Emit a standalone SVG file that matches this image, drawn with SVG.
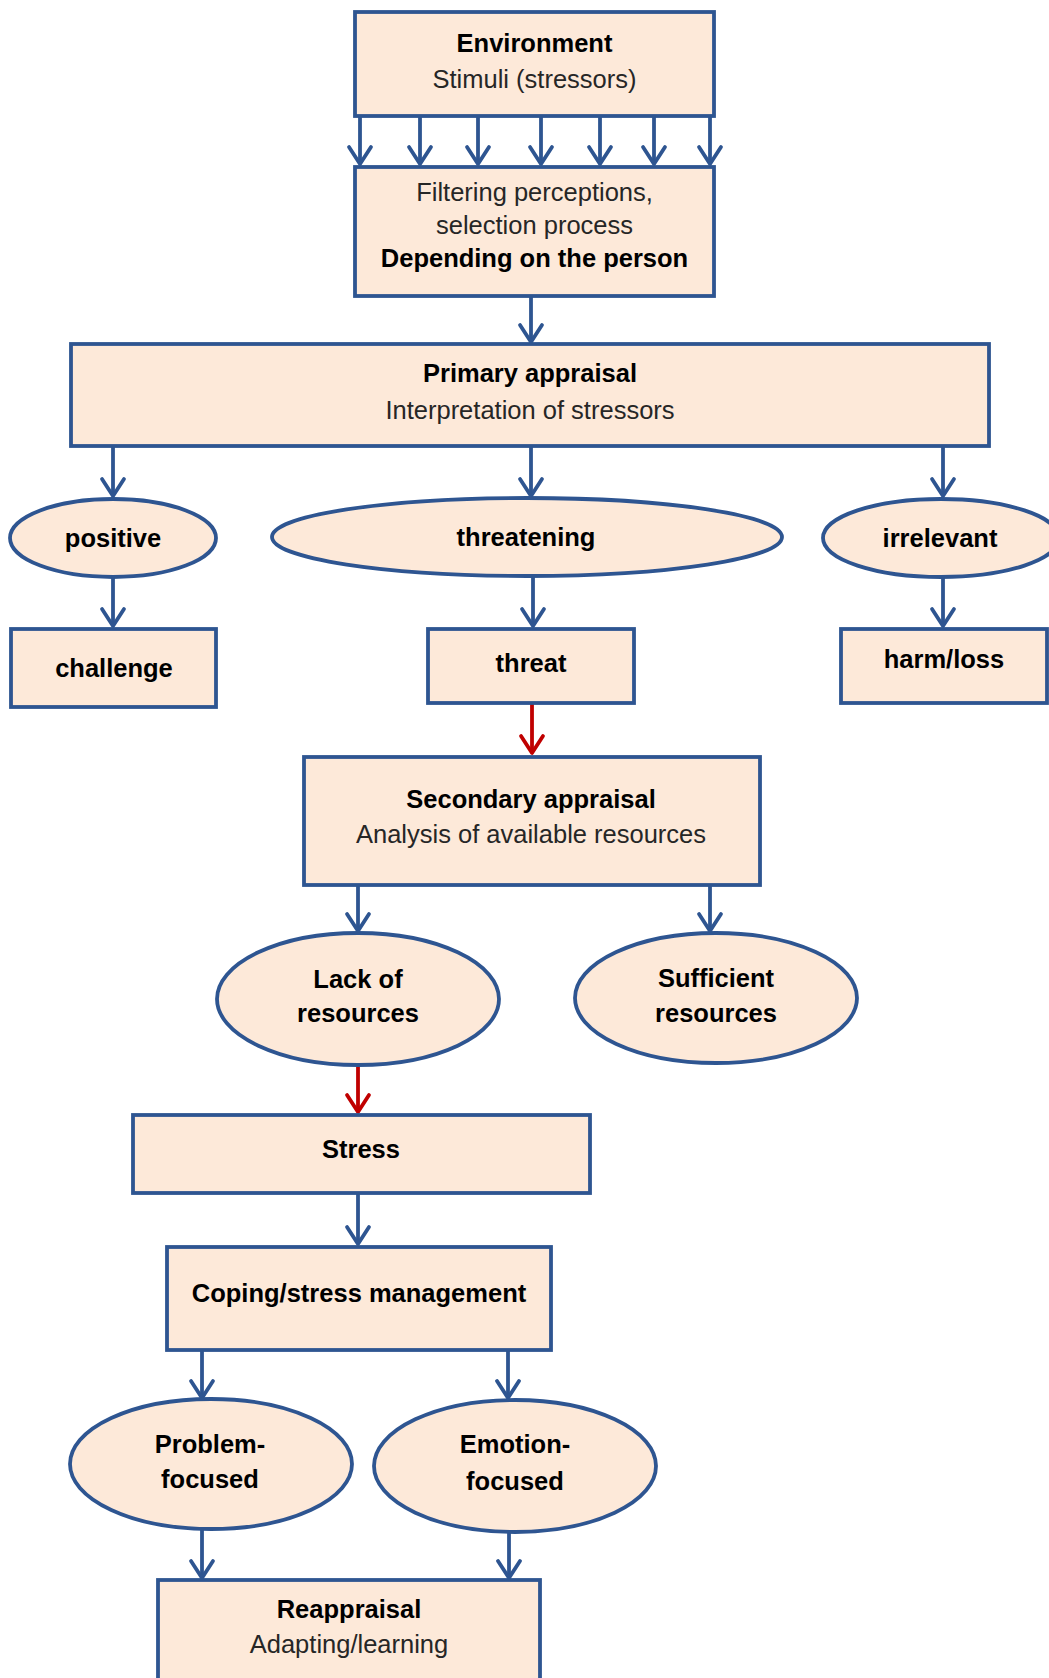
<svg xmlns="http://www.w3.org/2000/svg" width="1049" height="1678" viewBox="0 0 1049 1678">
<style>
.box{fill:#FDE9D9;stroke:#2E5591;stroke-width:3.8}
.t{font-family:"Liberation Sans",Arial,sans-serif;font-size:25.5px;text-anchor:middle}
.b{font-weight:bold;fill:#000}
.r{fill:#262626}
.c{fill:none;stroke:#2E5591;stroke-width:3.8}
.cr{fill:none;stroke:#C00000;stroke-width:3.8}
</style>
<defs>
<marker id="ah" markerUnits="userSpaceOnUse" markerWidth="40" markerHeight="40" viewBox="-20 -20 40 40" refX="0" refY="0" orient="auto" overflow="visible">
<path d="M-17,-11 L0,0 L-17,11" fill="none" stroke="#2E5591" stroke-width="3.8" stroke-linecap="round" stroke-linejoin="round"/>
</marker>
<marker id="ahr" markerUnits="userSpaceOnUse" markerWidth="40" markerHeight="40" viewBox="-20 -20 40 40" refX="0" refY="0" orient="auto" overflow="visible">
<path d="M-17,-11 L0,0 L-17,11" fill="none" stroke="#C00000" stroke-width="3.8" stroke-linecap="round" stroke-linejoin="round"/>
</marker>
</defs>
<rect width="1049" height="1678" fill="#fff"/>

<g id="connectors">
<path class="c" marker-end="url(#ah)" d="M360,116 V164"/>
<path class="c" marker-end="url(#ah)" d="M420,116 V164"/>
<path class="c" marker-end="url(#ah)" d="M478,116 V164"/>
<path class="c" marker-end="url(#ah)" d="M541,116 V164"/>
<path class="c" marker-end="url(#ah)" d="M600,116 V164"/>
<path class="c" marker-end="url(#ah)" d="M654,116 V164"/>
<path class="c" marker-end="url(#ah)" d="M710,116 V164"/>
<path class="c" marker-end="url(#ah)" d="M531,296 V342"/>
<path class="c" marker-end="url(#ah)" d="M113,446 V496"/>
<path class="c" marker-end="url(#ah)" d="M531,446 V496"/>
<path class="c" marker-end="url(#ah)" d="M943,446 V496"/>
<path class="c" marker-end="url(#ah)" d="M113,577 V626"/>
<path class="c" marker-end="url(#ah)" d="M533,576 V626"/>
<path class="c" marker-end="url(#ah)" d="M943,577 V626"/>
<path class="cr" marker-end="url(#ahr)" d="M532,703 V753"/>
<path class="c" marker-end="url(#ah)" d="M358,885 V931"/>
<path class="c" marker-end="url(#ah)" d="M710,885 V931"/>
<path class="cr" marker-end="url(#ahr)" d="M358,1066 V1112"/>
<path class="c" marker-end="url(#ah)" d="M358,1193 V1244"/>
<path class="c" marker-end="url(#ah)" d="M202,1350 V1398"/>
<path class="c" marker-end="url(#ah)" d="M508,1350 V1398"/>
<path class="c" marker-end="url(#ah)" d="M202,1529 V1578"/>
<path class="c" marker-end="url(#ah)" d="M509,1532 V1578"/>
</g>

<g id="environment">
<rect class="box" x="355" y="12" width="359" height="104"/>
<text class="t b" x="534.5" y="52">Environment</text>
<text class="t r" x="534.5" y="88">Stimuli (stressors)</text>
</g>

<g id="filtering">
<rect class="box" x="355" y="167" width="359" height="129"/>
<text class="t r" x="534.5" y="201">Filtering perceptions,</text>
<text class="t r" x="534.5" y="234">selection process</text>
<text class="t b" x="534.5" y="267">Depending on the person</text>
</g>

<g id="primary">
<rect class="box" x="71" y="344" width="918" height="102"/>
<text class="t b" x="530" y="382">Primary appraisal</text>
<text class="t r" x="530" y="419">Interpretation of stressors</text>
</g>

<g id="positive">
<ellipse class="box" cx="113" cy="538" rx="103" ry="39"/>
<text class="t b" x="113" y="547">positive</text>
</g>

<g id="threatening">
<ellipse class="box" cx="527" cy="537" rx="255" ry="39"/>
<text class="t b" x="526" y="546">threatening</text>
</g>

<g id="irrelevant">
<ellipse class="box" cx="941" cy="538" rx="118" ry="39"/>
<text class="t b" x="940" y="547">irrelevant</text>
</g>

<g id="challenge">
<rect class="box" x="11" y="629" width="205" height="78"/>
<text class="t b" x="114" y="677">challenge</text>
</g>

<g id="threat">
<rect class="box" x="428" y="629" width="206" height="74"/>
<text class="t b" x="531" y="672">threat</text>
</g>

<g id="harmloss">
<rect class="box" x="841" y="629" width="206" height="74"/>
<text class="t b" x="944" y="668">harm/loss</text>
</g>

<g id="secondary">
<rect class="box" x="304" y="757" width="456" height="128"/>
<text class="t b" x="531" y="808">Secondary appraisal</text>
<text class="t r" x="531" y="843">Analysis of available resources</text>
</g>

<g id="lack">
<ellipse class="box" cx="358" cy="999" rx="141" ry="66"/>
<text class="t b" x="358" y="988">Lack of</text>
<text class="t b" x="358" y="1022">resources</text>
</g>

<g id="sufficient">
<ellipse class="box" cx="716" cy="998" rx="141" ry="65"/>
<text class="t b" x="716" y="987">Sufficient</text>
<text class="t b" x="716" y="1022">resources</text>
</g>

<g id="stress">
<rect class="box" x="133" y="1115" width="457" height="78"/>
<text class="t b" x="361" y="1158">Stress</text>
</g>

<g id="coping">
<rect class="box" x="167" y="1247" width="384" height="103"/>
<text class="t b" x="359" y="1302">Coping/stress management</text>
</g>

<g id="problem">
<ellipse class="box" cx="211" cy="1464" rx="141" ry="65"/>
<text class="t b" x="210" y="1453">Problem-</text>
<text class="t b" x="210" y="1488">focused</text>
</g>

<g id="emotion">
<ellipse class="box" cx="515" cy="1466" rx="141" ry="66"/>
<text class="t b" x="515" y="1453">Emotion-</text>
<text class="t b" x="515" y="1490">focused</text>
</g>

<g id="reappraisal">
<rect class="box" x="158" y="1580" width="382" height="120"/>
<text class="t b" x="349" y="1618">Reappraisal</text>
<text class="t r" x="349" y="1653">Adapting/learning</text>
</g>
</svg>
